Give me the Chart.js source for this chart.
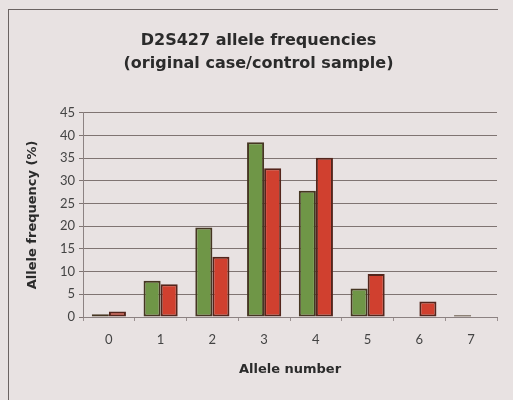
<!DOCTYPE html>
<html lang="en">
<head>
    <meta charset="UTF-8">
    <title>D2S427 allele frequencies</title>
    <script src="https://cdn.jsdelivr.net/npm/chart.js"></script>
    <style>
        body { margin: 0; background-color: #e8e2e2; overflow: hidden; }
        .wrap { position: relative; width: 513px; height: 400px; overflow: hidden; }
        .frame { position: absolute; left: 8px; top: 9px; width: 489px; height: 400px;
                 border-left: 1px solid #6b6362; border-top: 1px solid #6b6362; pointer-events: none; }
        canvas { display: block; }
    </style>
</head>
<body>
    <div class="wrap">
        <canvas id="alleleChart" width="513" height="400"></canvas>
        <div class="frame"></div>
    </div>

    <script>
        // allele numbers on the x axis
        const alleles = ['0', '1', '2', '3', '4', '5', '6', '7'];
        // frequencies (%)
        const greenSeries = [0.6, 8.0, 19.7, 38.5, 27.8, 6.3, 0, 0.4];
        const redSeries = [1.2, 7.2, 13.3, 32.8, 35.1, 9.5, 3.4, 0];
        const yMin = 0, yMax = 45, yStep = 5;

        const titleLines = ['D2S427 allele frequencies', '(original case/control sample)'];
        const xTitle = 'Allele number';
        const yTitle = 'Allele frequency (%)';

        let ctx = document.getElementById('alleleChart').getContext('2d');
        new Chart(ctx, {
            type: 'bar',
            data: {
                labels: alleles,
                datasets: [{
                    label: 'Cases',
                    data: greenSeries,
                    backgroundColor: '#6f9647',
                    borderColor: '#453622',
                    borderWidth: 2,
                    borderSkipped: false
                }, {
                    label: 'Controls',
                    data: redSeries,
                    backgroundColor: '#d0402f',
                    borderColor: '#54251c',
                    borderWidth: 2,
                    borderSkipped: false
                }]
            },
            options: {
                responsive: false,
                animation: false,
                layout: { padding: { top: 30, left: 20, right: 16, bottom: 0 } },
                datasets: { bar: { barPercentage: 1.0, categoryPercentage: 0.66 } },
                plugins: {
                    legend: { display: false },
                    tooltip: { enabled: false },
                    title: {
                        display: true,
                        text: titleLines,
                        color: '#2b2b2b',
                        font: { family: 'DejaVu Sans', size: 16, weight: 'bold', lineHeight: 1.4 },
                        padding: { top: 0, bottom: 38 }
                    }
                },
                scales: {
                    x: {
                        grid: { display: true, drawOnChartArea: false, drawTicks: true, tickLength: 4, color: '#9a9090' },
                        border: { display: true, color: '#8c8282', width: 1 },
                        ticks: { color: '#444', padding: 11, font: { family: 'Lato', size: 13 } },
                        title: {
                            display: true,
                            text: xTitle,
                            color: '#2b2b2b',
                            font: { family: 'DejaVu Sans', size: 13, weight: 'bold' },
                            padding: { top: 0, bottom: 23 }
                        },
                        afterFit: function (scale) { scale.height = 83; }
                    },
                    y: {
                        min: yMin,
                        max: yMax,
                        grid: { color: '#7f7472', lineWidth: 1, drawTicks: true, tickLength: 4 },
                        border: { display: true, color: '#8c8282', width: 1 },
                        ticks: { stepSize: yStep, color: '#444', padding: 4, font: { family: 'Lato', size: 13 } },
                        title: {
                            display: true,
                            text: yTitle,
                            color: '#2b2b2b',
                            font: { family: 'DejaVu Sans', size: 13, weight: 'bold' },
                            padding: { top: 5, bottom: 0 }
                        },
                        afterFit: function (scale) { scale.width = 63; }
                    }
                }
            }
        });
    </script>
</body>
</html>
